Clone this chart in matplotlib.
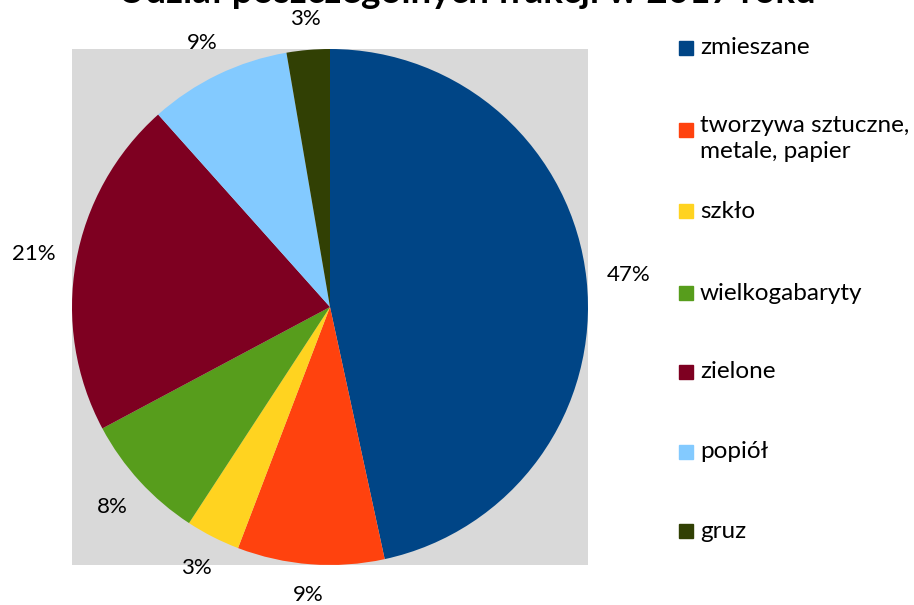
import numpy as np
import matplotlib.pyplot as plt
from matplotlib.patches import Rectangle

plt.rcParams['font.family'] = ['Lato', 'DejaVu Sans']

# data
categories = ["zmieszane", "tworzywa sztuczne,\nmetale, papier", "szkło",
              "wielkogabaryty", "zielone", "popiół", "gruz"]
shares = [46.6, 9.2, 3.4, 8.0, 21.2, 8.9, 2.7]
colors = ["#004586", "#ff420e", "#ffd320", "#579d1c", "#7e0021", "#83caff", "#314004"]

fig = plt.figure(figsize=(9.14, 6.05), dpi=100)
ax = fig.add_axes([72 / 914, 40 / 605, 516 / 914, 516 / 605])

wedges, texts, pcts = ax.pie(shares, colors=colors, startangle=90, counterclock=False,
                             radius=1, autopct=lambda p: f"{p:.0f}%", pctdistance=1.16,
                             textprops={'fontsize': 16, 'color': 'black'})
ax.set_xlim(-1, 1)
ax.set_ylim(-1, 1)
ax.set_frame_on(True)
for s in ax.spines.values():
    s.set_visible(False)
ax.set_facecolor("#d9d9d9")

# put labels just outside the pie edge, taking their size into account
fig.canvas.draw()
px = 258.0  # pixels per data unit
for w, t in zip(wedges, pcts):
    ang = np.deg2rad((w.theta1 + w.theta2) / 2)
    c, s = np.cos(ang), np.sin(ang)
    bb = t.get_window_extent()
    hw, hh = bb.width / 2 / px, bb.height / 2 / px
    d = 1.075 + abs(c) * hw + abs(s) * hh
    t.set_position((d * c, d * s))
    t.set_ha('center')
    t.set_va('center')

# title (top is cropped in the original)
fig.text(467 / 914, 1 - 3 / 605, "Udział poszczególnych frakcji w 2017 roku",
         ha='center', va='baseline', fontsize=26.5, fontweight='bold')

# legend drawn by hand
legend_y = [48, 130, 211, 293, 372, 452, 531]
for lab, col, y in zip(categories, colors, legend_y):
    fig.patches.append(Rectangle((679 / 914, 1 - (y + 7) / 605), 14 / 914, 14 / 605,
                                 transform=fig.transFigure, color=col))
    if '\n' in lab:
        fig.text(700 / 914, 1 - (y - 15) / 605, lab, ha='left', va='top',
                 fontsize=17.5, linespacing=1.3)
    else:
        fig.text(700 / 914, 1 - y / 605, lab, ha='left', va='center', fontsize=17.5)

fig.savefig("out.png", dpi=100)
